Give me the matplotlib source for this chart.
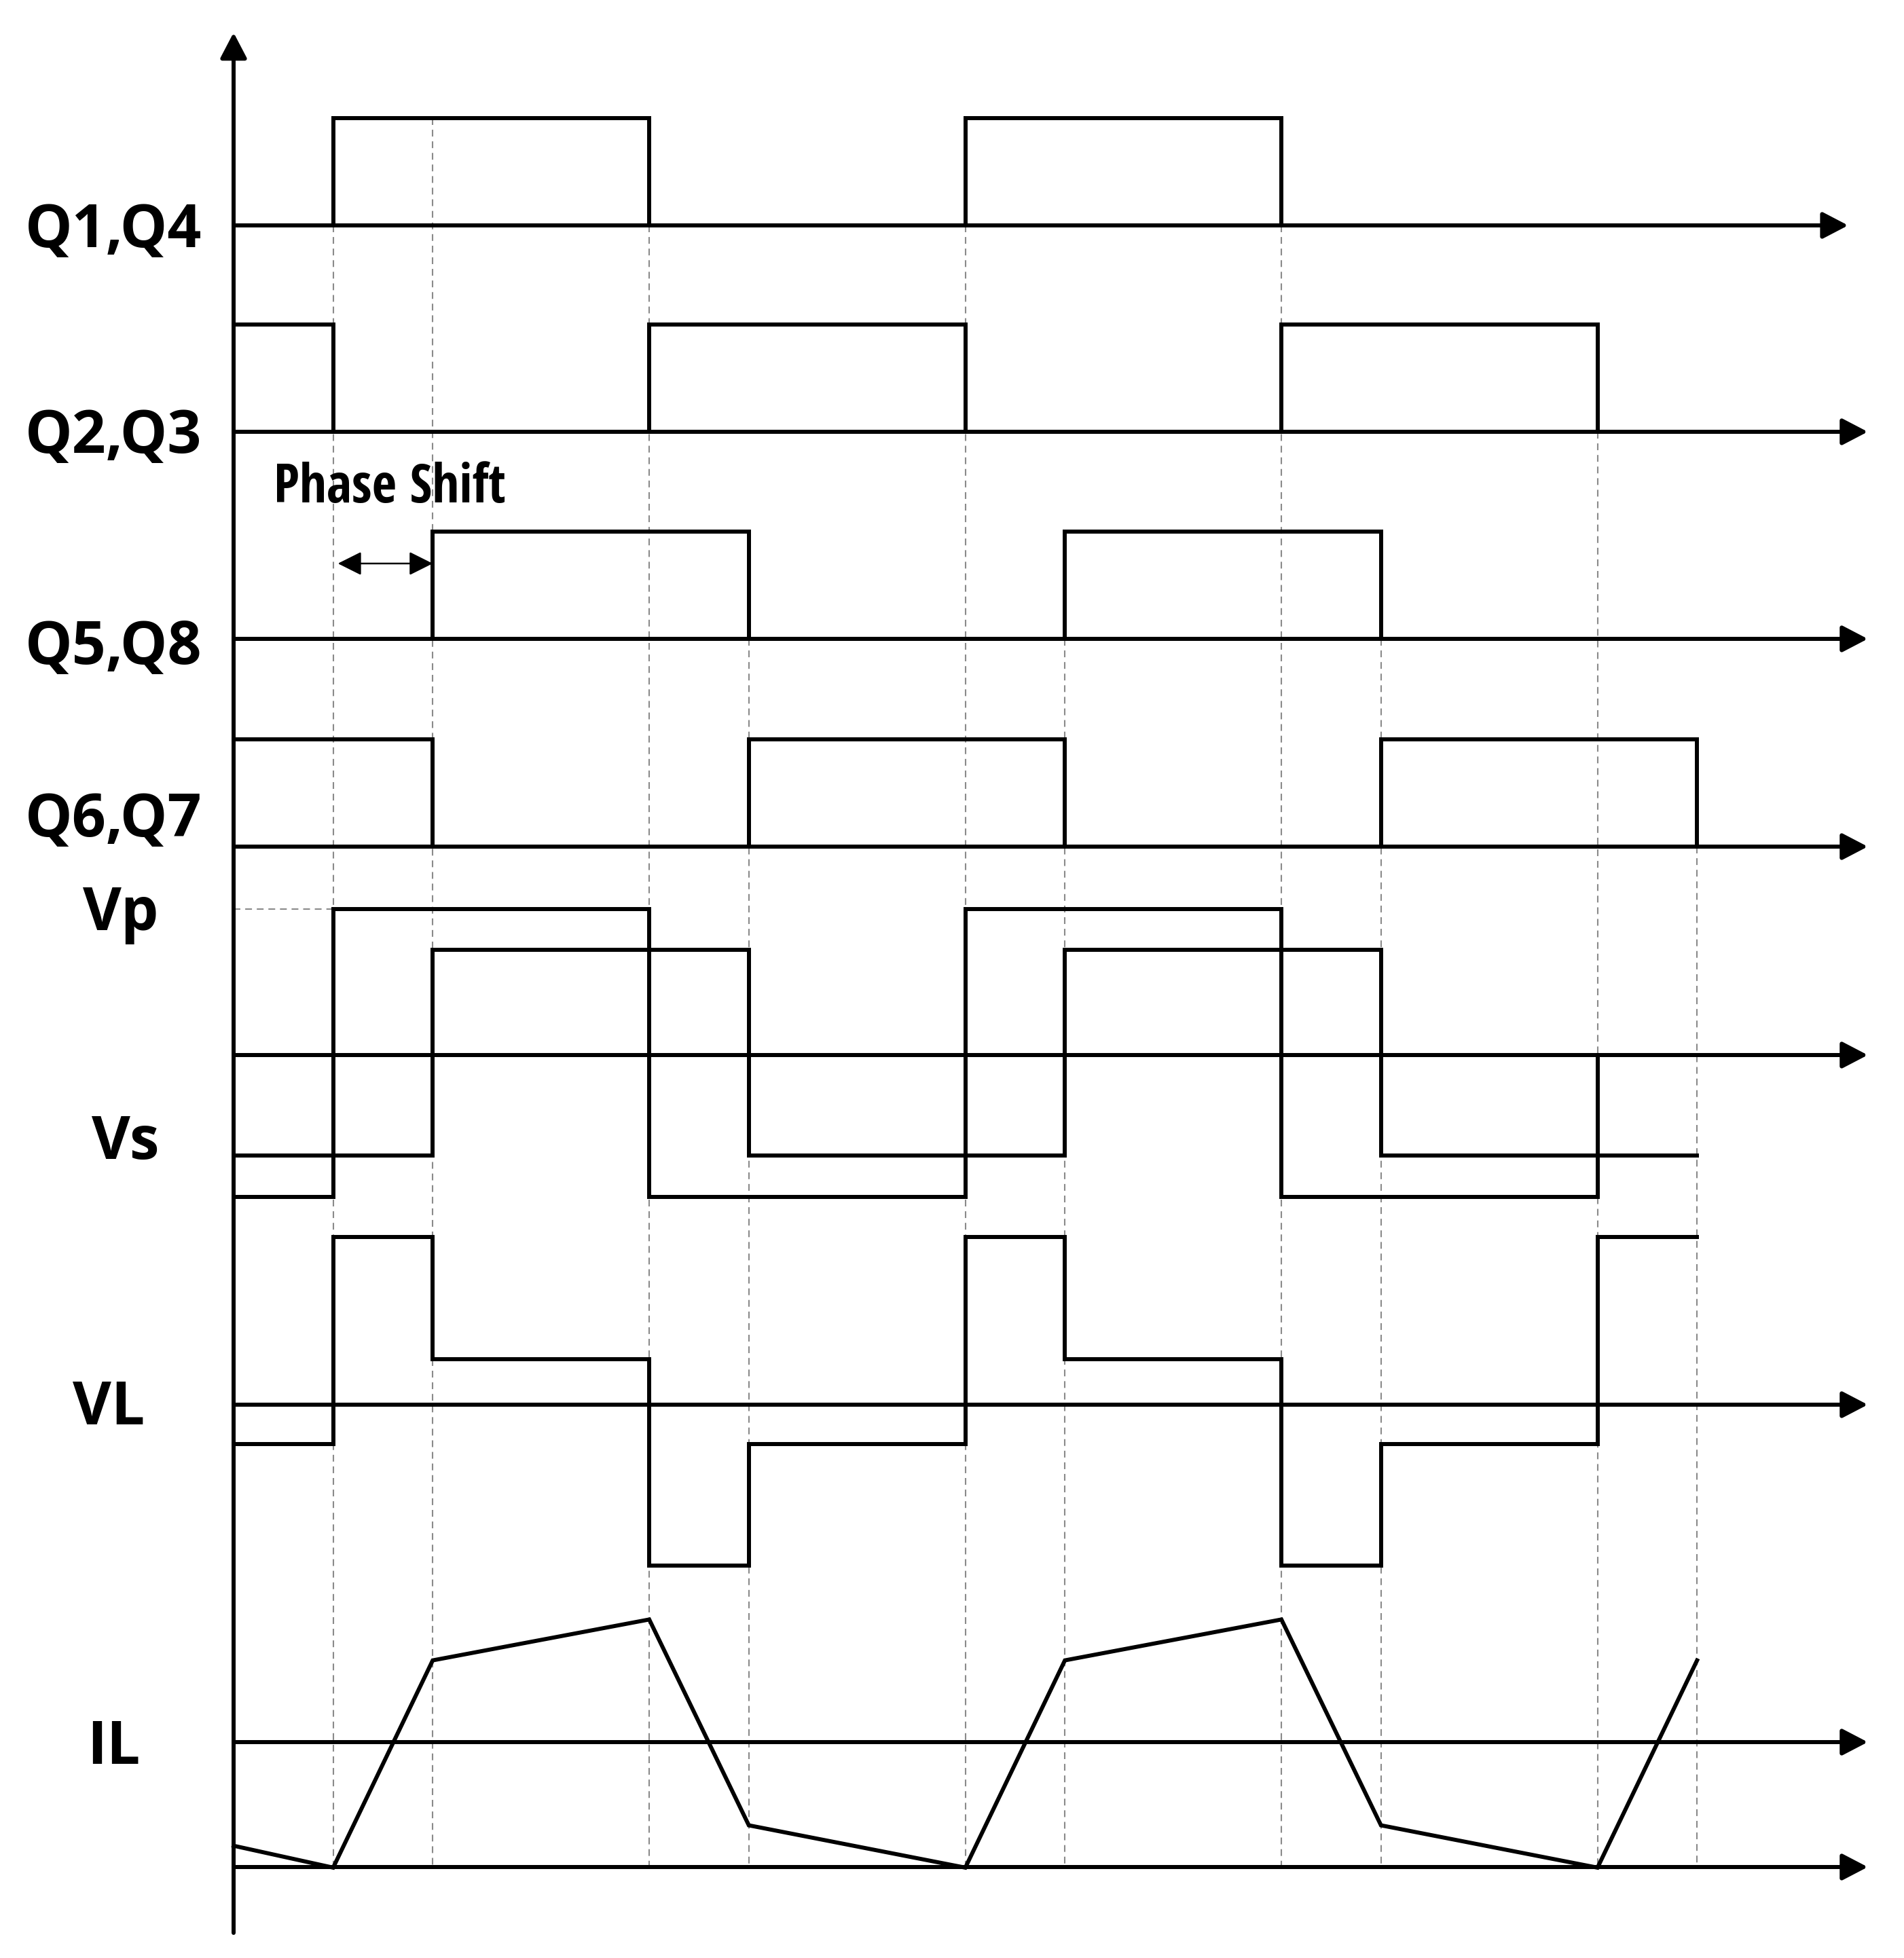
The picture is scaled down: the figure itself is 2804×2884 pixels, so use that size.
import matplotlib.pyplot as plt
from matplotlib import font_manager as fm

# switching instants, half period = 10 units, phase shift = 3.15
q14_t = [0, 3.15, 13.15, 23.15, 33.15]
q14_s = [0, 1, 0, 1, 0]
q23_t = [0, 3.15, 13.15, 23.15, 33.15, 43.15]
q23_s = [1, 0, 1, 0, 1, 0]
q58_t = [0, 6.3, 16.3, 26.3, 36.3]
q58_s = [0, 1, 0, 1, 0]
q67_t = [0, 6.3, 16.3, 26.3, 36.3, 46.3]
q67_s = [1, 0, 1, 0, 1, 0]

# primary / secondary bridge voltages (normalised)
vp_t = [0, 3.15, 13.15, 23.15, 33.15, 43.15]
vp_v = [-0.97, 1.0, -0.97, 1.0, -0.97, 0.0]
vs_t = [0, 6.3, 16.3, 26.3, 36.3, 46.3]
vs_v = [-0.69, 0.72, -0.69, 0.72, -0.69, -0.69]

# inductor voltage and current
vl_t = [0, 3.15, 6.3, 13.15, 16.3, 23.15, 26.3, 33.15, 36.3, 43.15, 46.3]
vl_v = [-0.27, 1.15, 0.31, -1.10, -0.27, 1.15, 0.31, -1.10, -0.27, 1.15, 1.15]
il_t = [0, 3.15, 6.3, 13.15, 16.3, 23.15, 26.3, 33.15, 36.3, 43.15, 46.3]
il_v = [-0.71, -0.86, 0.56, 0.84, -0.57, -0.86, 0.56, 0.84, -0.57, -0.86, 0.56]

edges = [3.15, 6.3, 13.15, 16.3, 23.15, 26.3, 33.15, 36.3, 43.15, 46.3]
labels = ['Q1,Q4', 'Q2,Q3', 'Q5,Q8', 'Q6,Q7', 'Vp', 'Vs', 'VL', 'IL']

# layout (pixels of the 2804x2884 image)
W, H = 2804, 2884
base = {'q14': 332, 'q23': 636, 'q58': 941, 'q67': 1247,
        'v': 1554, 'vl': 2069, 'il': 2566, 'bot': 2750}
g_gate = 158
g_ana = 215
dash_top = [332, 174, 332, 941, 332, 941, 332, 941, 636, 1247]
lw = 4.3
col = 'black'

fig = plt.figure(figsize=(W / 100, H / 100), dpi=100)
ax = fig.add_axes([0, 0, 1, 1])
ax.set_xlim(-344 / 46.55, (W - 344) / 46.55)
ax.set_ylim(H, 0)
ax.axis('off')

# gray guide lines at the switching instants
for te, yt in zip(edges, dash_top):
    ax.plot([te, te], [yt, base['bot']], color='#8a8a8a', lw=1.5,
            linestyle=(0, (4.8, 3.4)), zorder=1)
ax.plot([0, edges[0]], [base['v'] - g_ana * vp_v[1]] * 2, color='#8a8a8a',
        lw=1.5, linestyle=(0, (4.8, 3.4)), zorder=1)

# time axes with arrows
def h_arrow(y, tend):
    ax.annotate('', xy=(tend, y), xytext=(0, y),
                arrowprops=dict(arrowstyle='-|>,head_length=1.15,head_width=0.6',
                                mutation_scale=20, lw=lw, color=col,
                                shrinkA=0, shrinkB=0), zorder=2)

h_arrow(base['q14'], 51.08)
for k in ['q23', 'q58', 'q67', 'v', 'vl', 'il', 'bot']:
    h_arrow(base[k], 51.7)

ax.annotate('', xy=(0, 48), xytext=(0, 2847),
            arrowprops=dict(arrowstyle='-|>,head_length=1.15,head_width=0.6',
                            mutation_scale=20, lw=lw, color=col,
                            shrinkA=0, shrinkB=0), zorder=2)

# gate signals
for t, s, k in [(q14_t, q14_s, 'q14'), (q23_t, q23_s, 'q23'),
                (q58_t, q58_s, 'q58'), (q67_t, q67_s, 'q67')]:
    ax.step(t, [base[k] - g_gate * v for v in s], where='post', color=col,
            lw=lw, solid_joinstyle='miter', zorder=3)

ax.step(vp_t, [base['v'] - g_ana * v for v in vp_v], where='post', color=col,
        lw=lw, solid_joinstyle='miter', zorder=3)
ax.step(vs_t, [base['v'] - g_ana * v for v in vs_v], where='post', color=col,
        lw=lw, solid_joinstyle='miter', zorder=3)
ax.step(vl_t, [base['vl'] - g_ana * v for v in vl_v], where='post', color=col,
        lw=lw, solid_joinstyle='miter', zorder=3)
ax.plot(il_t, [base['il'] - g_ana * v for v in il_v], color=col, lw=lw,
        solid_joinstyle='miter', zorder=3)

# phase shift marker
ax.annotate('', xy=(3.3, 830), xytext=(6.3, 830),
            arrowprops=dict(arrowstyle='<|-|>,head_length=1.08,head_width=0.54',
                            mutation_scale=20, lw=1.8, color=col,
                            shrinkA=0, shrinkB=0), zorder=3)

fam = ['Open Sans', 'DejaVu Sans']
lab_pos = [(297, 364, 'right'), (297, 667, 'right'), (297, 978, 'right'),
           (297, 1232, 'right'), (122, 1370, 'left'), (135, 1707, 'left'),
           (107, 2098, 'left'), (128, 2598, 'left')]
for name, (x, y, ha) in zip(labels, lab_pos):
    fig.text(x / W, 1 - y / H, name, ha=ha, va='baseline', fontsize=63,
             fontweight='bold', family=fam)


# "Phase Shift" is set in a narrow bold face in the original
def is_bold(f):
    w = f.weight
    return (w >= 600) if isinstance(w, int) else ('bold' in str(w))


def is_narrow(f):
    s = f.stretch
    if 'narrow' in f.name.lower() or 'condensed' in f.name.lower():
        return True
    return (s < 500) if isinstance(s, int) else ('condensed' in str(s))


ps_prop = None
for want in ['Open Sans', 'Open Sans Condensed', 'Liberation Sans Narrow',
             'DejaVu Sans', 'Noto Sans']:
    for f in fm.fontManager.ttflist:
        if f.name == want and is_bold(f) and is_narrow(f) and f.style == 'normal':
            ps_prop = fm.FontProperties(fname=f.fname, size=57)
            break
    if ps_prop is not None:
        break
if ps_prop is None:
    ps_prop = fm.FontProperties(family='Open Sans', weight='bold', size=57)

ps = fig.text(403 / W, 1 - 740 / H, 'Phase Shift', ha='left', va='baseline',
              fontproperties=ps_prop)
r = fig.canvas.get_renderer()
wpx = ps.get_window_extent(renderer=r).width
ps.set_fontsize(57 * min(1.0, 347 / wpx))

fig.savefig('out.png', dpi=100, facecolor='white')
